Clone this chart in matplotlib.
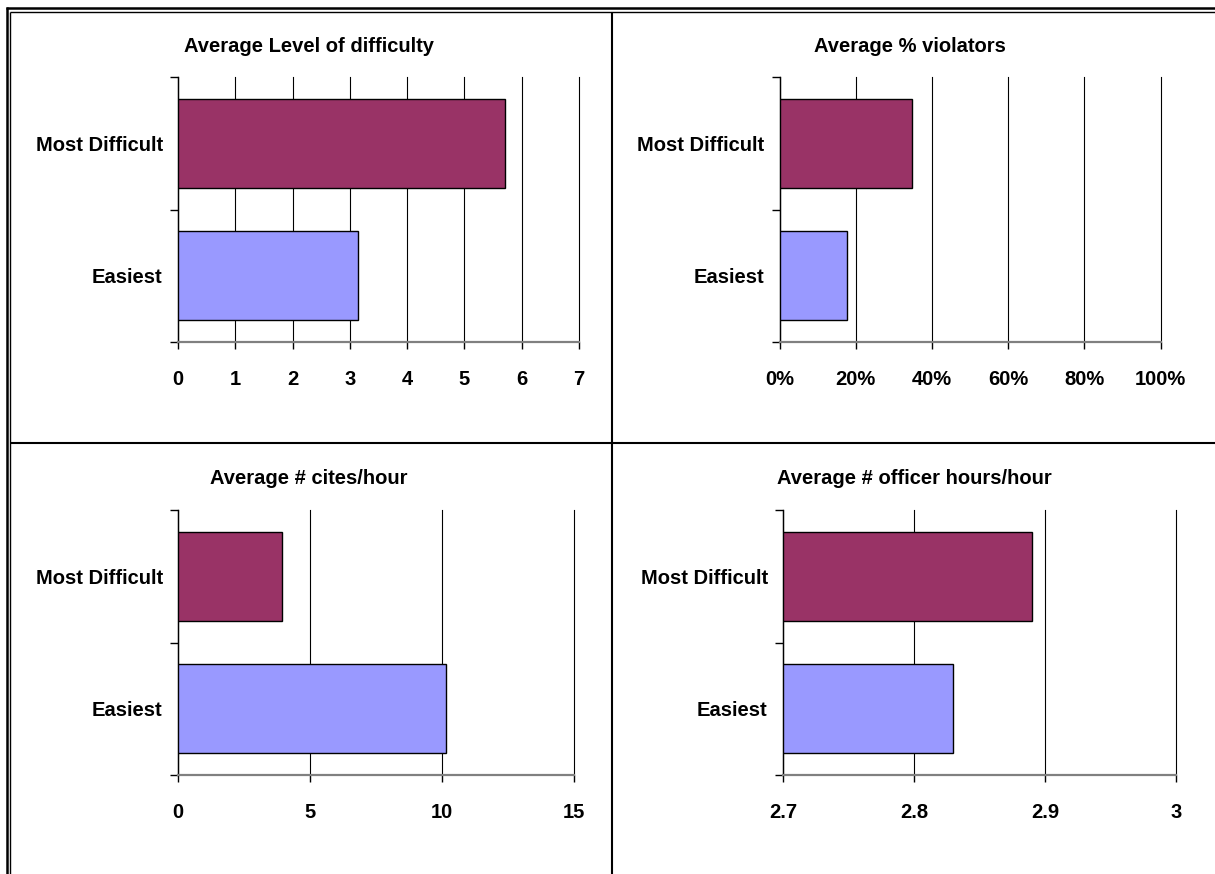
import matplotlib
matplotlib.use("Agg")
import matplotlib.pyplot as plt
from matplotlib.lines import Line2D

plt.rcParams['font.family'] = ['Liberation Sans', 'DejaVu Sans']
plt.rcParams['font.weight'] = 'bold'

# data
categories = ['Easiest', 'Most Difficult']
bar_colors = ['#9999FF', '#993366']

difficulty = [3.15, 5.71]
violators = [0.178, 0.349]
cites = [10.15, 3.94]
officer_hours = [2.83, 2.89]

difficulty_ticks = [0, 1, 2, 3, 4, 5, 6, 7]
violators_ticks = [0, 0.2, 0.4, 0.6, 0.8, 1.0]
violators_labels = ['0%', '20%', '40%', '60%', '80%', '100%']
cites_ticks = [0, 5, 10, 15]
hours_ticks = [2.7, 2.8, 2.9, 3.0]
hours_labels = ['2.7', '2.8', '2.9', '3']

W, H = 1215, 874
fig = plt.figure(figsize=(W / 100, H / 100), dpi=100)
fig.patch.set_facecolor('white')

FS = 14.5


def px_axes(left, right, top, bottom):
    return fig.add_axes([left / W, 1 - bottom / H, (right - left) / W, (bottom - top) / H])


def bar_panel(ax, values, ticks, labels, base=0):
    y = list(range(len(categories)))
    ax.barh(y, [v - base for v in values], left=base, height=0.67,
            color=bar_colors, edgecolor='black', linewidth=1.0, zorder=3)
    ax.set_xlim(ticks[0], ticks[-1])
    ax.set_ylim(-0.5, 1.5)
    ax.set_xticks(ticks)
    ax.set_xticklabels(labels if labels else [str(t) for t in ticks])
    ax.set_yticks(y)
    ax.set_yticklabels(categories)
    ax.set_yticks([-0.5, 0.5, 1.5], minor=True)
    ax.tick_params(axis='y', which='major', length=0, pad=11, labelsize=FS)
    ax.tick_params(axis='y', which='minor', length=6, width=1, color='black', direction='out')
    ax.tick_params(axis='x', length=5, width=1, color='black', direction='out', pad=15, labelsize=FS)
    ax.xaxis.grid(True, color='black', linewidth=0.8, zorder=1)
    for gl in ax.xaxis.get_gridlines():
        gl.set_clip_on(False)
    ax.set_axisbelow(True)
    for s in ['top', 'right']:
        ax.spines[s].set_visible(False)
    ax.spines['left'].set_color('black')
    ax.spines['left'].set_linewidth(1.0)
    ax.spines['bottom'].set_color('#808080')
    ax.spines['bottom'].set_linewidth(1.6)
    ax.patch.set_alpha(0)


ax1 = px_axes(178, 579, 77, 342)
bar_panel(ax1, difficulty, difficulty_ticks, None)

ax2 = px_axes(779.5, 1160.5, 77, 342)
bar_panel(ax2, violators, violators_ticks, violators_labels)

ax3 = px_axes(178, 574, 510, 775)
bar_panel(ax3, cites, cites_ticks, None)

ax4 = px_axes(783, 1176, 510, 775)
bar_panel(ax4, officer_hours, hours_ticks, hours_labels, base=hours_ticks[0])

# titles
titles = [("Average Level of difficulty", 309, 47),
          ("Average % violators", 910, 47),
          ("Average # cites/hour", 309, 479),
          ("Average # officer hours/hour", 914, 479)]
for t, x, y in titles:
    fig.text(x / W, 1 - y / H, t, ha='center', va='center', fontsize=FS, fontweight='bold')


# frame lines
def fig_line(x0, y0, x1, y1, lw):
    fig.add_artist(Line2D([x0 / W, x1 / W], [1 - y0 / H, 1 - y1 / H],
                          transform=fig.transFigure, color='black', linewidth=lw,
                          solid_capstyle='butt'))


fig_line(5.5, 8, W, 8, 1.8)
fig_line(6.8, 6.5, 6.8, H, 1.8)
fig_line(10.3, 11.5, W, 11.5, 1.0)
fig_line(10.3, 11.5, 10.3, H, 1.0)
fig_line(612, 11.5, 612, H, 1.5)
fig_line(10.3, 443, W, 443, 1.5)

fig.savefig('out.png', dpi=100)
